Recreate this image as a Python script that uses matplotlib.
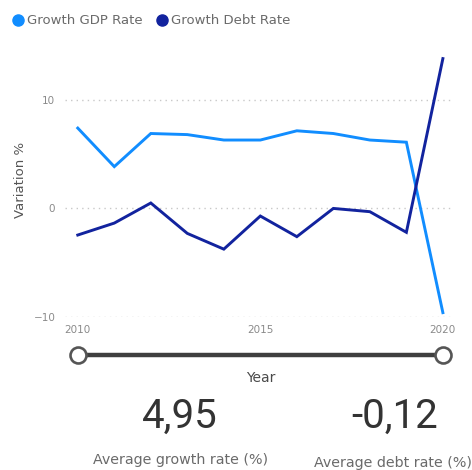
import matplotlib
matplotlib.use("Agg")
import matplotlib.pyplot as plt
from matplotlib.lines import Line2D

years = [2010, 2011, 2012, 2013, 2014, 2015, 2016, 2017, 2018, 2019, 2020]
gdp_growth = [7.4, 3.85, 6.9, 6.8, 6.3, 6.3, 7.15, 6.9, 6.3, 6.1, -9.6]
debt_growth = [-2.45, -1.35, 0.5, -2.3, -3.75, -0.7, -2.6, 0.0, -0.3, -2.2, 13.8]
y_ticks = [-10, 0, 10]
x_ticks = [2010, 2015, 2020]
series_names = ["Growth GDP Rate", "Growth Debt Rate"]
series_colors = ["#118DFF", "#12239E"]

plt.rcParams["font.family"] = ["DejaVu Sans"]

fig = plt.figure(figsize=(4.72, 4.70), dpi=100)
W, H = 472, 470

def fx(px):
    return px / W

def fy(px):
    return 1 - px / H

def box(x0, y0, x1, y1):
    return [x0 / W, 1 - y1 / H, (x1 - x0) / W, (y1 - y0) / H]

# line chart
ax = fig.add_axes(box(65, 51, 452, 317))
ax.plot(years, gdp_growth, color=series_colors[0], lw=2.1, solid_joinstyle="miter")
ax.plot(years, debt_growth, color=series_colors[1], lw=2.1, solid_joinstyle="miter")
ax.set_xlim(2009.65, 2020.25)
ax.set_ylim(-10, 14.5)
ax.set_yticks(y_ticks)
ax.set_xticks([])
for t in y_ticks:
    ax.axhline(t, color="#C8C8C8", lw=1.0, ls=(0, (1, 3)), zorder=0)
for s in ax.spines.values():
    s.set_visible(False)
ax.tick_params(axis="y", length=0, labelsize=7.5, labelcolor="#8A8A8A", pad=7)
fig.text(fx(21), fy(180), "Variation %", rotation=90, ha="center", va="center",
         fontsize=9.5, color="#555555")

# year ticks and range slider on the same x scale
sl = fig.add_axes(box(65, 322, 452, 366))
sl.set_xlim(ax.get_xlim())
sl.set_ylim(0, 1)
sl.axis("off")
for yr in x_ticks:
    sl.text(yr, 0.82, str(yr), ha="center", va="center", fontsize=7.5, color="#8A8A8A")
sl.plot([years[0], years[-1]], [0.25, 0.25], color="#3F3F3F", lw=3.2,
        solid_capstyle="butt", zorder=1)
sl.plot([years[0], years[-1]], [0.25, 0.25], ls="none", marker="o", ms=11.5,
        mfc="white", mec="#555555", mew=1.9, zorder=2)
fig.text(fx(261), fy(378), "Year", ha="center", va="center", fontsize=10,
         color="#4A4A4A")

# legend
legend_x = [18, 162]
for x, name, color in zip(legend_x, series_names, series_colors):
    fig.add_artist(Line2D([fx(x)], [fy(20)], ls="none", marker="o", ms=8,
                          color=color, transform=fig.transFigure))
    fig.text(fx(x + 9), fy(20), name, ha="left", va="center", fontsize=9.5,
             color="#6A6A6A")

# summary cards
avg_gdp = sum(gdp_growth) / len(gdp_growth)
avg_debt = sum(debt_growth) / len(debt_growth)
fmt = lambda v: f"{v:.2f}".replace(".", ",").replace("-", "-")
card_font = ["Roboto", "DejaVu Sans"]
fig.text(fx(180), fy(416), fmt(avg_gdp), ha="center", va="center", fontsize=29,
         color="#333333", fontfamily=card_font)
fig.text(fx(395), fy(416), fmt(avg_debt), ha="center", va="center", fontsize=29,
         color="#333333", fontfamily=card_font)
fig.text(fx(181), fy(460), "Average growth rate (%)", ha="center", va="center",
         fontsize=10.3, color="#6A6A6A")
fig.text(fx(393), fy(463), "Average debt rate (%)", ha="center", va="center",
         fontsize=10.3, color="#6A6A6A")

fig.savefig("out.png", dpi=100, facecolor="white")
